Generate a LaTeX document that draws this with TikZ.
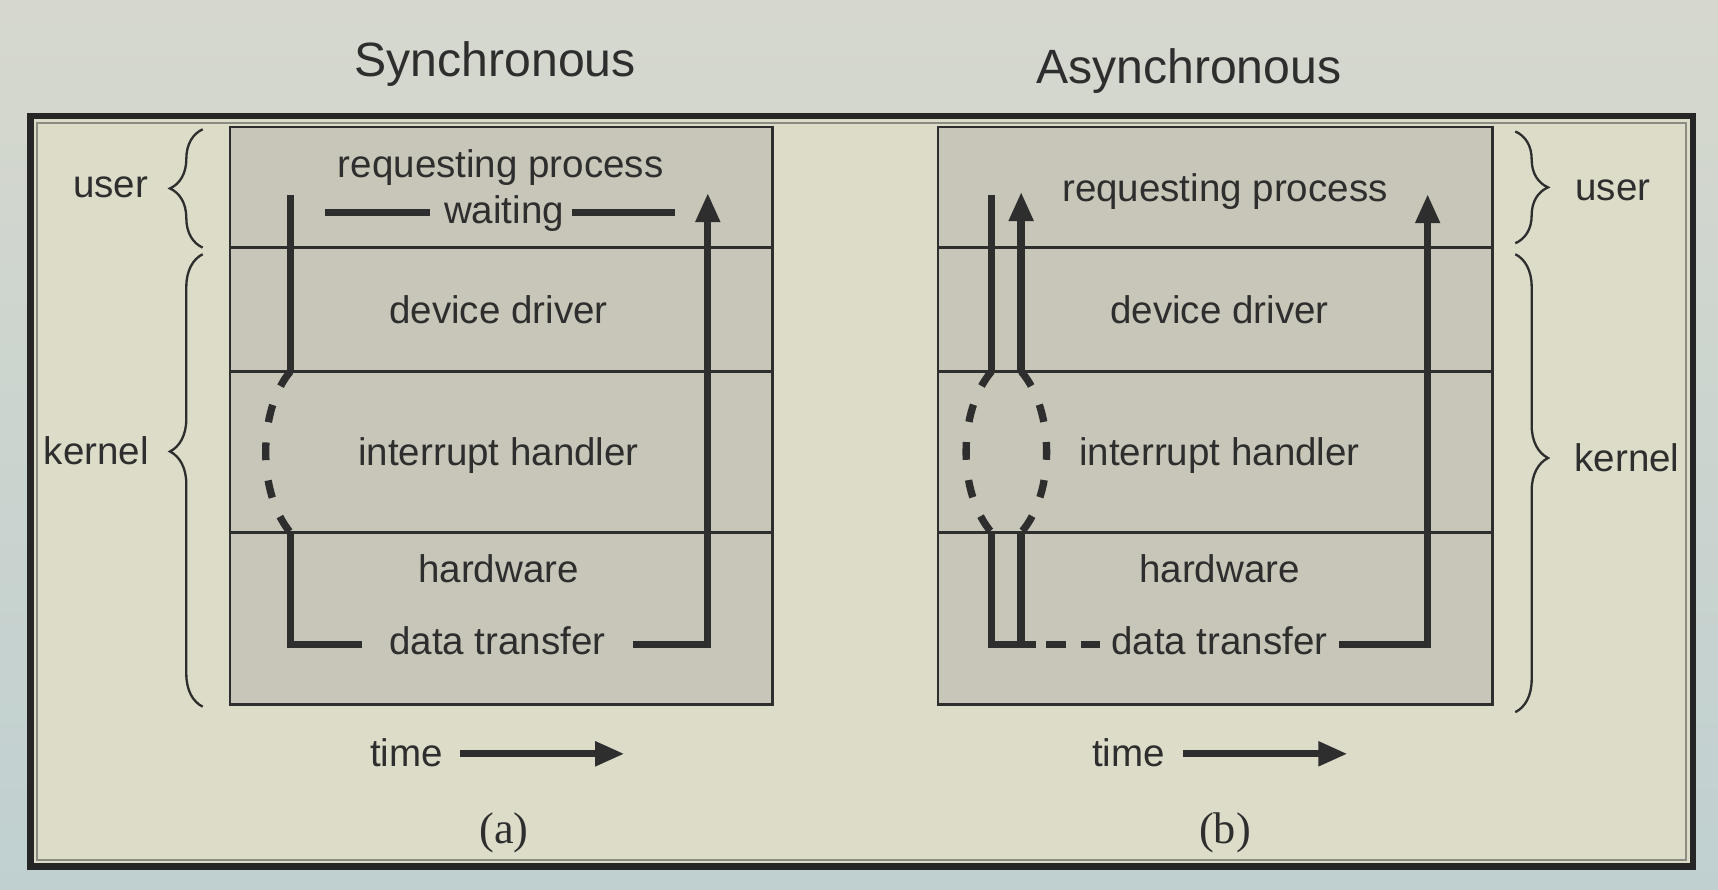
\documentclass[tikz,border=0pt]{standalone}
\usepackage{fontspec}
\setmainfont{Liberation Sans}
\newfontfamily\capserif{Liberation Serif}
\usepackage{tikz}
\usetikzlibrary{arrows.meta, decorations.pathreplacing}
\usepackage{xcolor}
\definecolor{bgtop}{HTML}{D6D8CE}
\definecolor{bgbottom}{HTML}{C0D0D0}
\definecolor{panelcream}{HTML}{DCDCC9}
\definecolor{layergray}{HTML}{C8C6B8}
\definecolor{inkgray}{HTML}{2E2E2E}
\definecolor{rimgray}{HTML}{8C8C82}
\tikzset{%
	layer/.style={
		draw=inkgray,
		fill=layergray,
		line width=0.7pt
	},
	layer text/.style={
		text=inkgray,
		anchor=base,
		font=\fontsize{10}{12}\selectfont
	},
	title text/.style={
		text=inkgray,
		anchor=base,
		font=\fontsize{12.5}{15}\selectfont
	},
	caption text/.style={
		text=inkgray,
		anchor=base,
		font=\capserif\fontsize{11.5}{14}\selectfont
	},
	flow/.style={
		draw=inkgray,
		line width=1.9pt
	},
	flow arrow/.style={
		flow,
		-{Triangle[width=6pt,length=7.6pt]}
	},
	flow dashed/.style={
		flow,
		dash pattern=on 4.6pt off 5.3pt
	},
	side brace/.style={
		draw=inkgray,
		line width=0.6pt,
		decorate,
		decoration={brace, amplitude=8.5pt}
	},
}

\begin{document}
\begin{tikzpicture}[x=0.01cm, y=-0.01cm]
	% Page size and backdrop
	\useasboundingbox (0,0) rectangle (1568,812);
	\fill[top color=bgtop, bottom color=bgbottom] (0,0) rectangle (1568,812);
	
	% Draw the outer frame
	\fill[panelcream] (28,106) rectangle (1545,791);
	\draw[rimgray, line width=0.6pt] (34,112) rectangle (1539,785);
	\draw[black!85, line width=1.7pt] (28,106) rectangle (1545,791);
	
	% Titles
	\node[title text] (syncTitle) at (452,70) {Synchronous};
	\node[title text] (asyncTitle) at (1085,76) {Asynchronous};
	
	% Draw the left stack of layers
	\draw[layer] (210,116) rectangle (705,643);
	\draw[layer] (210,226) -- (705,226);
	\draw[layer] (210,339) -- (705,339);
	\draw[layer] (210,486) -- (705,486);
	\node[layer text] (syncReq) at (457,162) {requesting process};
	\node[layer text] (syncWait) at (460,204) {waiting};
	\node[layer text] (syncDrv) at (455,295) {device driver};
	\node[layer text] (syncIrq) at (455,425) {interrupt handler};
	\node[layer text] (syncHw) at (455,532) {hardware};
	\node[layer text] (syncXfer) at (454,597) {data transfer};
	
	% Draw the right stack of layers
	\draw[layer] (856,116) rectangle (1362,643);
	\draw[layer] (856,226) -- (1362,226);
	\draw[layer] (856,339) -- (1362,339);
	\draw[layer] (856,486) -- (1362,486);
	\node[layer text] (asyncReq) at (1118,184) {requesting process};
	\node[layer text] (asyncDrv) at (1113,295) {device driver};
	\node[layer text] (asyncIrq) at (1113,425) {interrupt handler};
	\node[layer text] (asyncHw) at (1113,532) {hardware};
	\node[layer text] (asyncXfer) at (1113,597) {data transfer};
	
	% Braces and their labels
	\draw[side brace] (185,226) -- (185,118);
	\draw[side brace, decoration={aspect=0.564}] (185,645) -- (185,232);
	\node[layer text] (syncUser) at (101,180) {user};
	\node[layer text] (syncKernel) at (88,424) {kernel};
	\draw[side brace] (1383,120) -- (1383,222);
	\draw[side brace, decoration={aspect=0.445}] (1383,232) -- (1383,650);
	\node[layer text] (asyncUser) at (1472,183) {user};
	\node[layer text] (asyncKernel) at (1485,430) {kernel};
	
	% Synchronous path
	\coordinate (syncStart) at (265,178);
	\coordinate (syncDrvBot) at (265,339);
	\coordinate (syncHwTop) at (265,486);
	\coordinate (syncCorner) at (265,588);
	\coordinate (syncXferL) at (330,588);
	\coordinate (syncXferR) at (578,588);
	\coordinate (syncRise) at (646,588);
	\coordinate (syncTop) at (646,176);
	\coordinate (waitA) at (297,194);
	\coordinate (waitB) at (392,194);
	\coordinate (waitC) at (522,194);
	\coordinate (waitD) at (616,194);
	\draw[flow] (syncStart) -- (syncDrvBot);
	\draw[flow dashed] (syncDrvBot) .. controls (235,375) and (235,450) .. (syncHwTop);
	\draw[flow] (syncHwTop) -- (syncCorner) -- (syncXferL);
	\draw[flow arrow] (syncXferR) -- (syncRise) -- (syncTop);
	\draw[flow] (waitA) -- (waitB);
	\draw[flow] (waitC) -- (waitD);
	
	% Asynchronous path
	\coordinate (asyncStart) at (905,178);
	\coordinate (asyncDrvL) at (905,339);
	\coordinate (asyncDrvR) at (932,339);
	\coordinate (asyncUp) at (932,175);
	\coordinate (asyncHwL) at (905,486);
	\coordinate (asyncHwR) at (932,486);
	\coordinate (asyncCornerL) at (905,588);
	\coordinate (asyncCornerR) at (932,588);
	\coordinate (asyncStub) at (946,588);
	\coordinate (asyncDashA) at (955,588);
	\coordinate (asyncDashB) at (1004,588);
	\coordinate (asyncXferR) at (1222,588);
	\coordinate (asyncRise) at (1303,588);
	\coordinate (asyncTop) at (1303,177);
	\draw[flow] (asyncStart) -- (asyncDrvL);
	\draw[flow dashed] (asyncDrvL) .. controls (874,375) and (874,450) .. (asyncHwL);
	\draw[flow dashed] (asyncDrvR) .. controls (963,375) and (963,450) .. (asyncHwR);
	\draw[flow arrow] (asyncDrvR) -- (asyncUp);
	\draw[flow] (asyncHwL) -- (asyncCornerL) -- (asyncStub);
	\draw[flow] (asyncHwR) -- (asyncCornerR);
	\draw[flow, dash pattern=on 5.1pt off 4pt] (asyncDashA) -- (asyncDashB);
	\draw[flow arrow] (asyncXferR) -- (asyncRise) -- (asyncTop);
	
	% Time axes
	\node[layer text] (syncTime) at (371,700) {time};
	\coordinate (syncTimeA) at (420,688);
	\coordinate (syncTimeB) at (570,688);
	\draw[flow arrow] (syncTimeA) -- (syncTimeB);
	\node[layer text] (asyncTime) at (1030,700) {time};
	\coordinate (asyncTimeA) at (1080,688);
	\coordinate (asyncTimeB) at (1230,688);
	\draw[flow arrow] (asyncTimeA) -- (asyncTimeB);
	
	% Captions
	\node[caption text] (capA) at (460,770) {(a)};
	\node[caption text] (capB) at (1118,770) {(b)};
\end{tikzpicture}
\end{document}
